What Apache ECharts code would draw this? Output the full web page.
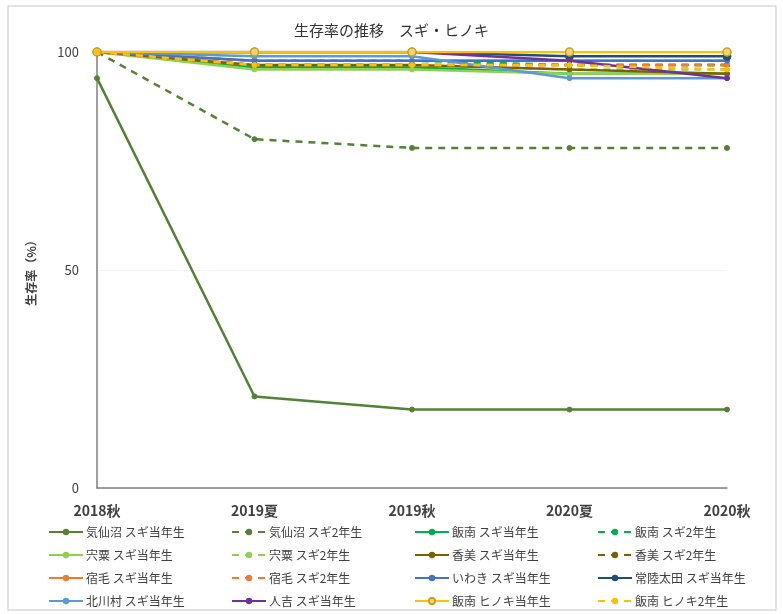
<!DOCTYPE html>
<html>
<head>
<meta charset="utf-8">
<script src="https://cdn.jsdelivr.net/npm/echarts@6/dist/echarts.min.js"></script>
<style>
  html, body { margin: 0; padding: 0; background: #fff; }
  #chart { width: 783px; height: 614px; }
</style>
</head>
<body>
<div id="chart"></div>
<script>
// Survey periods
const periods = ['2018秋', '2019夏', '2019秋', '2020夏', '2020秋'];

// Survival rate (%) per site and seedling age
const kesennumaSugi0 = [94, 21, 18, 18, 18];
const kesennumaSugi2 = [100, 80, 78, 78, 78];
const iinanSugi0 = [100, 96.5, 96.5, 95, 95];
const iinanSugi2 = [100, 98, 98, 97, 97];
const shisoSugi0 = [100, 96, 96, 95, 95];
const shisoSugi2 = [100, 97, 97, 96, 96];
const kamiSugi0 = [100, 97, 97, 96, 95];
const kamiSugi2 = [100, 97, 97, 97, 97];
const sukumoSugi0 = [100, 98, 98, 98, 98];
const sukumoSugi2 = [100, 97, 97, 97, 97];
const iwakiSugi0 = [100, 98, 98, 98, 98];
const hitachiotaSugi0 = [100, 100, 100, 99, 99];
const kitagawaSugi0 = [100, 99, 99, 94, 94];
const hitoyoshiSugi0 = [100, 100, 100, 98, 94];
const iinanHinoki0 = [100, 100, 100, 100, 100];
const iinanHinoki2 = [100, 97, 97, 97, 96];

const yTicks = [0, 50, 100];

function line(name, data, color, dashed, symbolSize, hollow) {
  return {
    name: name,
    type: 'line',
    data: data,
    symbol: 'circle',
    symbolSize: symbolSize || 5,
    showSymbol: true,
    lineStyle: { color: color, width: 2.5, type: dashed ? [7, 6] : 'solid' },
    itemStyle: hollow
      ? { color: '#f3d27a', borderColor: '#c9a21a', borderWidth: 1.5 }
      : { color: color, borderColor: color },
    emphasis: { disabled: true },
    animation: false
  };
}

const series = [
  line('気仙沼 スギ当年生', kesennumaSugi0, '#548235', false),
  line('気仙沼 スギ2年生', kesennumaSugi2, '#548235', true),
  line('飯南 スギ当年生', iinanSugi0, '#00B050', false),
  line('飯南 スギ2年生', iinanSugi2, '#00B050', true),
  line('宍粟 スギ当年生', shisoSugi0, '#92D050', false),
  line('宍粟 スギ2年生', shisoSugi2, '#92D050', true),
  line('香美 スギ当年生', kamiSugi0, '#7F6000', false),
  line('香美 スギ2年生', kamiSugi2, '#7F6000', true),
  line('宿毛 スギ当年生', sukumoSugi0, '#ED7D31', false),
  line('宿毛 スギ2年生', sukumoSugi2, '#ED7D31', true),
  line('いわき スギ当年生', iwakiSugi0, '#4472C4', false),
  line('常陸太田 スギ当年生', hitachiotaSugi0, '#1F4E79', false, 8),
  line('北川村 スギ当年生', kitagawaSugi0, '#5B9BD5', false),
  line('人吉 スギ当年生', hitoyoshiSugi0, '#7030A0', false),
  line('飯南 ヒノキ当年生', iinanHinoki0, '#FFC000', false, 8, true),
  line('飯南 ヒノキ2年生', iinanHinoki2, '#FFC000', true)
];

const names = series.map(s => s.name);
// Legend laid out as 4 columns x 4 rows (row-major order of the series)
const colLeft = [48, 231, 414, 597];
const legends = colLeft.map((left, c) => ({
  orient: 'vertical',
  left: left,
  top: 526,
  height: 86,
  padding: 0,
  itemGap: 11,
  itemWidth: 34,
  itemHeight: 8,
  data: [0, 1, 2, 3].map(r => names[r * 4 + c]),
  textStyle: { fontFamily: 'Noto Sans CJK JP', fontSize: 12, color: '#404040', padding: [0, 0, 0, -2] },
  selectedMode: false
}));

const chart = echarts.init(document.getElementById('chart'));
chart.setOption({
  backgroundColor: '#fff',
  animation: false,
  title: {
    text: '生存率の推移　スギ・ヒノキ',
    left: 'center',
    top: 18,
    textStyle: { fontFamily: 'Noto Sans CJK JP', fontSize: 15, fontWeight: 'normal', color: '#333' }
  },
  graphic: [{
    type: 'rect',
    shape: { x: 8, y: 6, width: 768, height: 604 },
    style: { fill: 'none', stroke: '#d9d9d9', lineWidth: 1.5 },
    silent: true,
    z: -1
  }],
  legend: legends,
  grid: { left: 97, right: 56, top: 52, bottom: 126 },
  xAxis: {
    type: 'category',
    data: periods,
    boundaryGap: false,
    axisLine: { show: true, lineStyle: { color: '#7f7f7f', width: 1.5 } },
    axisTick: { show: false },
    axisLabel: { fontFamily: 'Noto Sans CJK JP', fontSize: 14, fontWeight: 'bold', color: '#404040', margin: 16 }
  },
  yAxis: {
    type: 'value',
    min: yTicks[0],
    max: yTicks[yTicks.length - 1],
    interval: yTicks[1] - yTicks[0],
    name: '生存率（%）',
    nameLocation: 'middle',
    nameGap: 60,
    nameRotate: 90,
    nameTextStyle: { fontFamily: 'Noto Sans CJK JP', fontSize: 12, fontWeight: 'bold', color: '#404040' },
    axisLine: { show: true, lineStyle: { color: '#7f7f7f', width: 1.5 } },
    axisTick: { show: false },
    axisLabel: { fontFamily: 'Noto Sans CJK JP', fontSize: 13, color: '#404040', margin: 18 },
    splitLine: { show: true, lineStyle: { color: '#f2f2f2' } }
  },
  series: series
});
</script>
</body>
</html>
